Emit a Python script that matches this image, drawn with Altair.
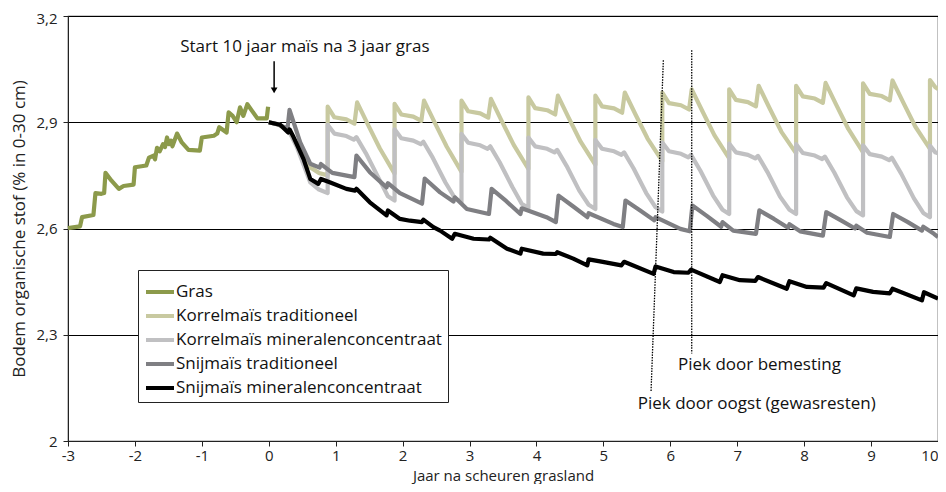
import altair as alt
import pandas as pd

FONT = "Open Sans"

SERIES = ["Gras", "Korrelmaïs traditioneel", "Korrelmaïs mineralenconcentraat",
          "Snijmaïs traditioneel", "Snijmaïs mineralenconcentraat"]
COLORS = ["#8c9a4b", "#c8c9a0", "#c0c0c2", "#7f7f83", "#000000"]

X_TICKS = [-3, -2, -1, 0, 1, 2, 3, 4, 5, 6, 7, 8, 9, 10]
Y_TICKS = [2.0, 2.3, 2.6, 2.9, 3.2]

GRAS_X = [-3.0, -2.82, -2.79, -2.62, -2.59, -2.50, -2.46, -2.44, -2.35, -2.24, -2.17, -2.02, -2.00,
          -1.83, -1.79, -1.72, -1.70, -1.67, -1.63, -1.58, -1.55, -1.52, -1.49, -1.46, -1.44, -1.37,
          -1.30, -1.20, -1.03, -1.00, -0.82, -0.77, -0.74, -0.63, -0.60, -0.54, -0.48, -0.43, -0.38,
          -0.32, -0.25, -0.17, -0.03, -0.01]
GRAS_Y = [2.601, 2.606, 2.632, 2.638, 2.700, 2.698, 2.700, 2.757, 2.735, 2.712, 2.720, 2.724, 2.773,
          2.778, 2.800, 2.806, 2.795, 2.828, 2.818, 2.838, 2.830, 2.857, 2.838, 2.848, 2.832, 2.868,
          2.843, 2.822, 2.820, 2.857, 2.862, 2.868, 2.886, 2.871, 2.928, 2.918, 2.900, 2.942, 2.918,
          2.951, 2.932, 2.911, 2.911, 2.944]

KT_X = [0, 0.15, 0.3, 0.45, 0.6, 0.75, 0.88,
        0.88, 0.98, 1.16, 1.28, 1.32, 1.48, 1.66, 1.88,
        1.88, 1.98, 2.16, 2.28, 2.32, 2.48, 2.66, 2.88,
        2.88, 2.98, 3.16, 3.28, 3.32, 3.48, 3.66, 3.88,
        3.88, 3.98, 4.16, 4.28, 4.32, 4.48, 4.66, 4.88,
        4.88, 4.98, 5.16, 5.28, 5.32, 5.48, 5.66, 5.88,
        5.88, 5.98, 6.16, 6.28, 6.32, 6.48, 6.66, 6.88,
        6.88, 6.98, 7.16, 7.28, 7.32, 7.48, 7.66, 7.88,
        7.88, 7.98, 8.16, 8.28, 8.32, 8.48, 8.66, 8.88,
        8.88, 8.98, 9.16, 9.28, 9.32, 9.48, 9.66, 9.88,
        9.88, 9.96, 10.0]
KT_Y = [2.900, 2.893, 2.875, 2.830, 2.775, 2.757, 2.750,
        2.944, 2.914, 2.908, 2.896, 2.956, 2.894, 2.826, 2.755,
        2.952, 2.922, 2.916, 2.904, 2.961, 2.899, 2.831, 2.760,
        2.961, 2.931, 2.925, 2.913, 2.966, 2.904, 2.836, 2.768,
        2.970, 2.940, 2.934, 2.922, 2.975, 2.913, 2.845, 2.780,
        2.975, 2.945, 2.939, 2.927, 2.984, 2.922, 2.854, 2.790,
        2.984, 2.954, 2.948, 2.936, 2.993, 2.931, 2.863, 2.798,
        2.993, 2.963, 2.957, 2.945, 3.003, 2.941, 2.873, 2.812,
        3.003, 2.973, 2.967, 2.955, 3.011, 2.949, 2.881, 2.815,
        3.010, 2.980, 2.974, 2.962, 3.018, 2.956, 2.888, 2.825,
        3.019, 2.999, 2.994]

KMC_X = [0, 0.15, 0.3, 0.42, 0.52, 0.62, 0.75, 0.88,
         0.88, 0.98, 1.16, 1.27, 1.31, 1.45, 1.64, 1.78, 1.88,
         1.88, 1.98, 2.16, 2.27, 2.31, 2.45, 2.64, 2.78, 2.88,
         2.88, 2.98, 3.16, 3.27, 3.31, 3.45, 3.64, 3.78, 3.88,
         3.88, 3.98, 4.16, 4.27, 4.31, 4.45, 4.64, 4.78, 4.88,
         4.88, 4.98, 5.16, 5.27, 5.31, 5.45, 5.64, 5.78, 5.88,
         5.88, 5.98, 6.16, 6.27, 6.31, 6.45, 6.64, 6.78, 6.88,
         6.88, 6.98, 7.16, 7.27, 7.31, 7.45, 7.64, 7.78, 7.88,
         7.88, 7.98, 8.16, 8.27, 8.31, 8.45, 8.64, 8.78, 8.88,
         8.88, 8.98, 9.16, 9.27, 9.31, 9.45, 9.64, 9.78, 9.88,
         9.88, 9.96, 10.0]
KMC_Y = [2.900, 2.894, 2.876, 2.830, 2.780, 2.730, 2.710, 2.700,
         2.893, 2.868, 2.861, 2.851, 2.858, 2.813, 2.743, 2.691, 2.679,
         2.880, 2.855, 2.848, 2.838, 2.845, 2.800, 2.730, 2.686, 2.674,
         2.867, 2.842, 2.835, 2.825, 2.832, 2.787, 2.717, 2.670, 2.658,
         2.857, 2.832, 2.825, 2.815, 2.822, 2.777, 2.707, 2.667, 2.655,
         2.850, 2.825, 2.818, 2.808, 2.815, 2.770, 2.700, 2.660, 2.648,
         2.843, 2.818, 2.811, 2.801, 2.808, 2.763, 2.693, 2.653, 2.641,
         2.840, 2.815, 2.808, 2.798, 2.805, 2.760, 2.690, 2.653, 2.641,
         2.838, 2.813, 2.806, 2.796, 2.803, 2.758, 2.688, 2.649, 2.637,
         2.835, 2.810, 2.803, 2.793, 2.800, 2.755, 2.685, 2.644, 2.632,
         2.834, 2.815, 2.812]

ST_X = [0, 0.15, 0.28, 0.31, 0.47, 0.62, 0.76, 0.78, 0.95, 1.28,
        1.31, 1.51, 1.76, 1.78, 1.96, 2.29,
        2.33, 2.56, 2.76, 2.78, 2.96, 3.29,
        3.33, 3.55, 3.76, 3.78, 4.15, 4.29,
        4.33, 4.55, 4.76, 4.78, 5.15, 5.29,
        5.33, 5.55, 5.76, 5.78, 6.15, 6.29,
        6.33, 6.55, 6.76, 6.78, 6.94, 7.28,
        7.33, 7.55, 7.76, 7.78, 7.94, 8.28,
        8.33, 8.55, 8.76, 8.78, 8.94, 9.28,
        9.33, 9.55, 9.76, 9.78, 9.94, 10.0]
ST_Y = [2.900, 2.893, 2.882, 2.935, 2.843, 2.783, 2.772, 2.782, 2.757, 2.745,
        2.806, 2.759, 2.716, 2.728, 2.700, 2.670,
        2.741, 2.702, 2.676, 2.688, 2.655, 2.641,
        2.712, 2.677, 2.641, 2.657, 2.632, 2.618,
        2.693, 2.662, 2.632, 2.643, 2.613, 2.604,
        2.679, 2.651, 2.623, 2.632, 2.599, 2.592,
        2.665, 2.635, 2.605, 2.618, 2.594, 2.585,
        2.651, 2.627, 2.602, 2.612, 2.592, 2.580,
        2.646, 2.623, 2.600, 2.608, 2.588, 2.576,
        2.641, 2.618, 2.594, 2.605, 2.585, 2.576]

SM_X = [0, 0.17, 0.29, 0.31, 0.36, 0.52, 0.62, 0.74, 0.78, 0.92, 1.16, 1.29, 1.31, 1.51,
        1.76, 1.78, 1.96, 2.11, 2.29, 2.31, 2.46, 2.56, 2.74, 2.78, 3.06, 3.29, 3.31, 3.56,
        3.76, 3.78, 4.10, 4.29, 4.31, 4.55, 4.76, 4.78, 4.95, 5.27, 5.31, 5.75, 5.78, 6.05,
        6.27, 6.31, 6.74, 6.78, 7.04, 7.27, 7.31, 7.74, 7.78, 8.04, 8.29, 8.33, 8.74, 8.78,
        9.03, 9.28, 9.32, 9.76, 9.79, 10.0]
SM_Y = [2.900, 2.893, 2.871, 2.880, 2.862, 2.796, 2.740, 2.726, 2.740, 2.730, 2.712, 2.707, 2.712, 2.674,
        2.637, 2.651, 2.627, 2.622, 2.618, 2.625, 2.604, 2.594, 2.571, 2.585, 2.571, 2.569, 2.574, 2.543,
        2.529, 2.543, 2.529, 2.528, 2.533, 2.515, 2.496, 2.513, 2.507, 2.496, 2.506, 2.472, 2.493, 2.477,
        2.475, 2.484, 2.449, 2.468, 2.454, 2.452, 2.463, 2.430, 2.451, 2.435, 2.433, 2.446, 2.411, 2.431,
        2.421, 2.417, 2.430, 2.397, 2.420, 2.402]

ALL = [(SERIES[0], GRAS_X, GRAS_Y), (SERIES[1], KT_X, KT_Y), (SERIES[2], KMC_X, KMC_Y),
       (SERIES[3], ST_X, ST_Y), (SERIES[4], SM_X, SM_Y)]

rows = []
for name, xs, ys in ALL:
    for i, (x, y) in enumerate(zip(xs, ys)):
        rows.append({"serie": name, "jaar": x, "os": y, "i": i})
df = pd.DataFrame(rows)

xscale = alt.Scale(domain=[-3, 10], nice=False, zero=False)
yscale = alt.Scale(domain=[2, 3.2], nice=False, zero=False)

xaxis = alt.Axis(values=X_TICKS, grid=False, title="Jaar na scheuren grasland",
                 labelExpr="toString(datum.value)",
                 labelAlign={"condition": {"test": "datum.value == 10", "value": "right"},
                             "value": "center"},
                 labelFontSize=15, titleFontSize=15, titleFontWeight="normal",
                 tickSize=5, labelPadding=2, titlePadding=5, domainColor="#222",
                 tickColor="#222", labelColor="#222", titleColor="#222", labelFlush=False)
yaxis = alt.Axis(values=Y_TICKS, grid=True, gridColor="#000", gridOpacity=1, gridWidth=1.2,
                 title="Bodem organische stof (% in 0-30 cm)",
                 labelExpr="datum.value == 2 ? '2' : replace(format(datum.value, '.1f'), '.', ',')",
                 labelOffset={"condition": {"test": "datum.value > 3.1", "value": 2}, "value": 0},
                 labelFontSize=15, titleFontSize=17, titleFontWeight="normal",
                 tickSize=5, labelPadding=6, titlePadding=7, domainColor="#222",
                 tickColor="#222", labelColor="#222", titleColor="#222")

color = alt.Color("serie:N", scale=alt.Scale(domain=SERIES, range=COLORS),
                  legend=alt.Legend(orient="none", legendX=70, legendY=254, title=None,
                                    symbolType="stroke", symbolStrokeWidth=4, symbolSize=784,
                                    labelFontSize=17, labelFont=FONT, labelColor="#111",
                                    labelLimit=500, rowPadding=0, labelOffset=0,
                                    padding=6, strokeColor="#222", fillColor="white",
                                    symbolOffset=0))

draw_order = [SERIES[1], SERIES[2], SERIES[3], SERIES[0], SERIES[4]]
layers = []
for name in draw_order:
    layers.append(
        alt.Chart(df).transform_filter(alt.datum.serie == name)
        .mark_line(strokeWidth=4.2, strokeJoin="round")
        .encode(x=alt.X("jaar:Q", scale=xscale, axis=xaxis),
                y=alt.Y("os:Q", scale=yscale, axis=yaxis),
                color=color, order=alt.Order("i:Q"))
    )

# annotations
start_df = pd.DataFrame({"x": [0.54], "y": [3.113], "t": ["Start 10 jaar maïs na 3 jaar gras"]})
start_text = alt.Chart(start_df).mark_text(font=FONT, fontSize=17, align="center",
                                           baseline="middle", color="#111").encode(
    x=alt.X("x:Q", scale=xscale), y=alt.Y("y:Q", scale=yscale), text="t:N")

arrow_df = pd.DataFrame({"x": [0.08], "y": [3.072], "y2": [2.995]})
arrow_line = alt.Chart(arrow_df).mark_rule(color="black", strokeWidth=1.5).encode(
    x=alt.X("x:Q", scale=xscale), y=alt.Y("y:Q", scale=yscale), y2="y2:Q")
head_df = pd.DataFrame({"x": [0.08], "y": [2.99]})
arrow_head = alt.Chart(head_df).mark_point(shape="triangle-down", filled=True, size=45,
                                           color="black", opacity=1).encode(
    x=alt.X("x:Q", scale=xscale), y=alt.Y("y:Q", scale=yscale))

dots_df = pd.DataFrame({"x": [5.896, 6.32], "y": [3.075, 3.103],
                        "x2": [5.712, 6.32], "y2": [2.139, 2.247]})
dots = alt.Chart(dots_df).mark_rule(color="black", strokeWidth=1.3, strokeDash=[1.5, 1.2]).encode(
    x=alt.X("x:Q", scale=xscale), y=alt.Y("y:Q", scale=yscale), x2="x2:Q", y2="y2:Q")

piek_df = pd.DataFrame({"x": [6.115, 5.513], "y": [2.214, 2.104],
                        "t": ["Piek door bemesting", "Piek door oogst (gewasresten)"]})
piek_text = alt.Chart(piek_df).mark_text(font=FONT, fontSize=17, align="left",
                                         baseline="middle", color="#111").encode(
    x=alt.X("x:Q", scale=xscale), y=alt.Y("y:Q", scale=yscale), text="t:N")

chart = alt.layer(*layers, dots, arrow_line, arrow_head, start_text, piek_text).properties(
    width=870, height=425,
    padding={"left": 60, "top": 8, "right": 0, "bottom": 43},
    autosize=alt.AutoSizeParams(type="none"),
).configure_view(stroke="#333", strokeWidth=1.2).configure_axis(
    labelFont=FONT, titleFont=FONT
).configure_legend(labelFont=FONT)

chart.save("out.html", embed_options={"renderer": "svg", "actions": False})
